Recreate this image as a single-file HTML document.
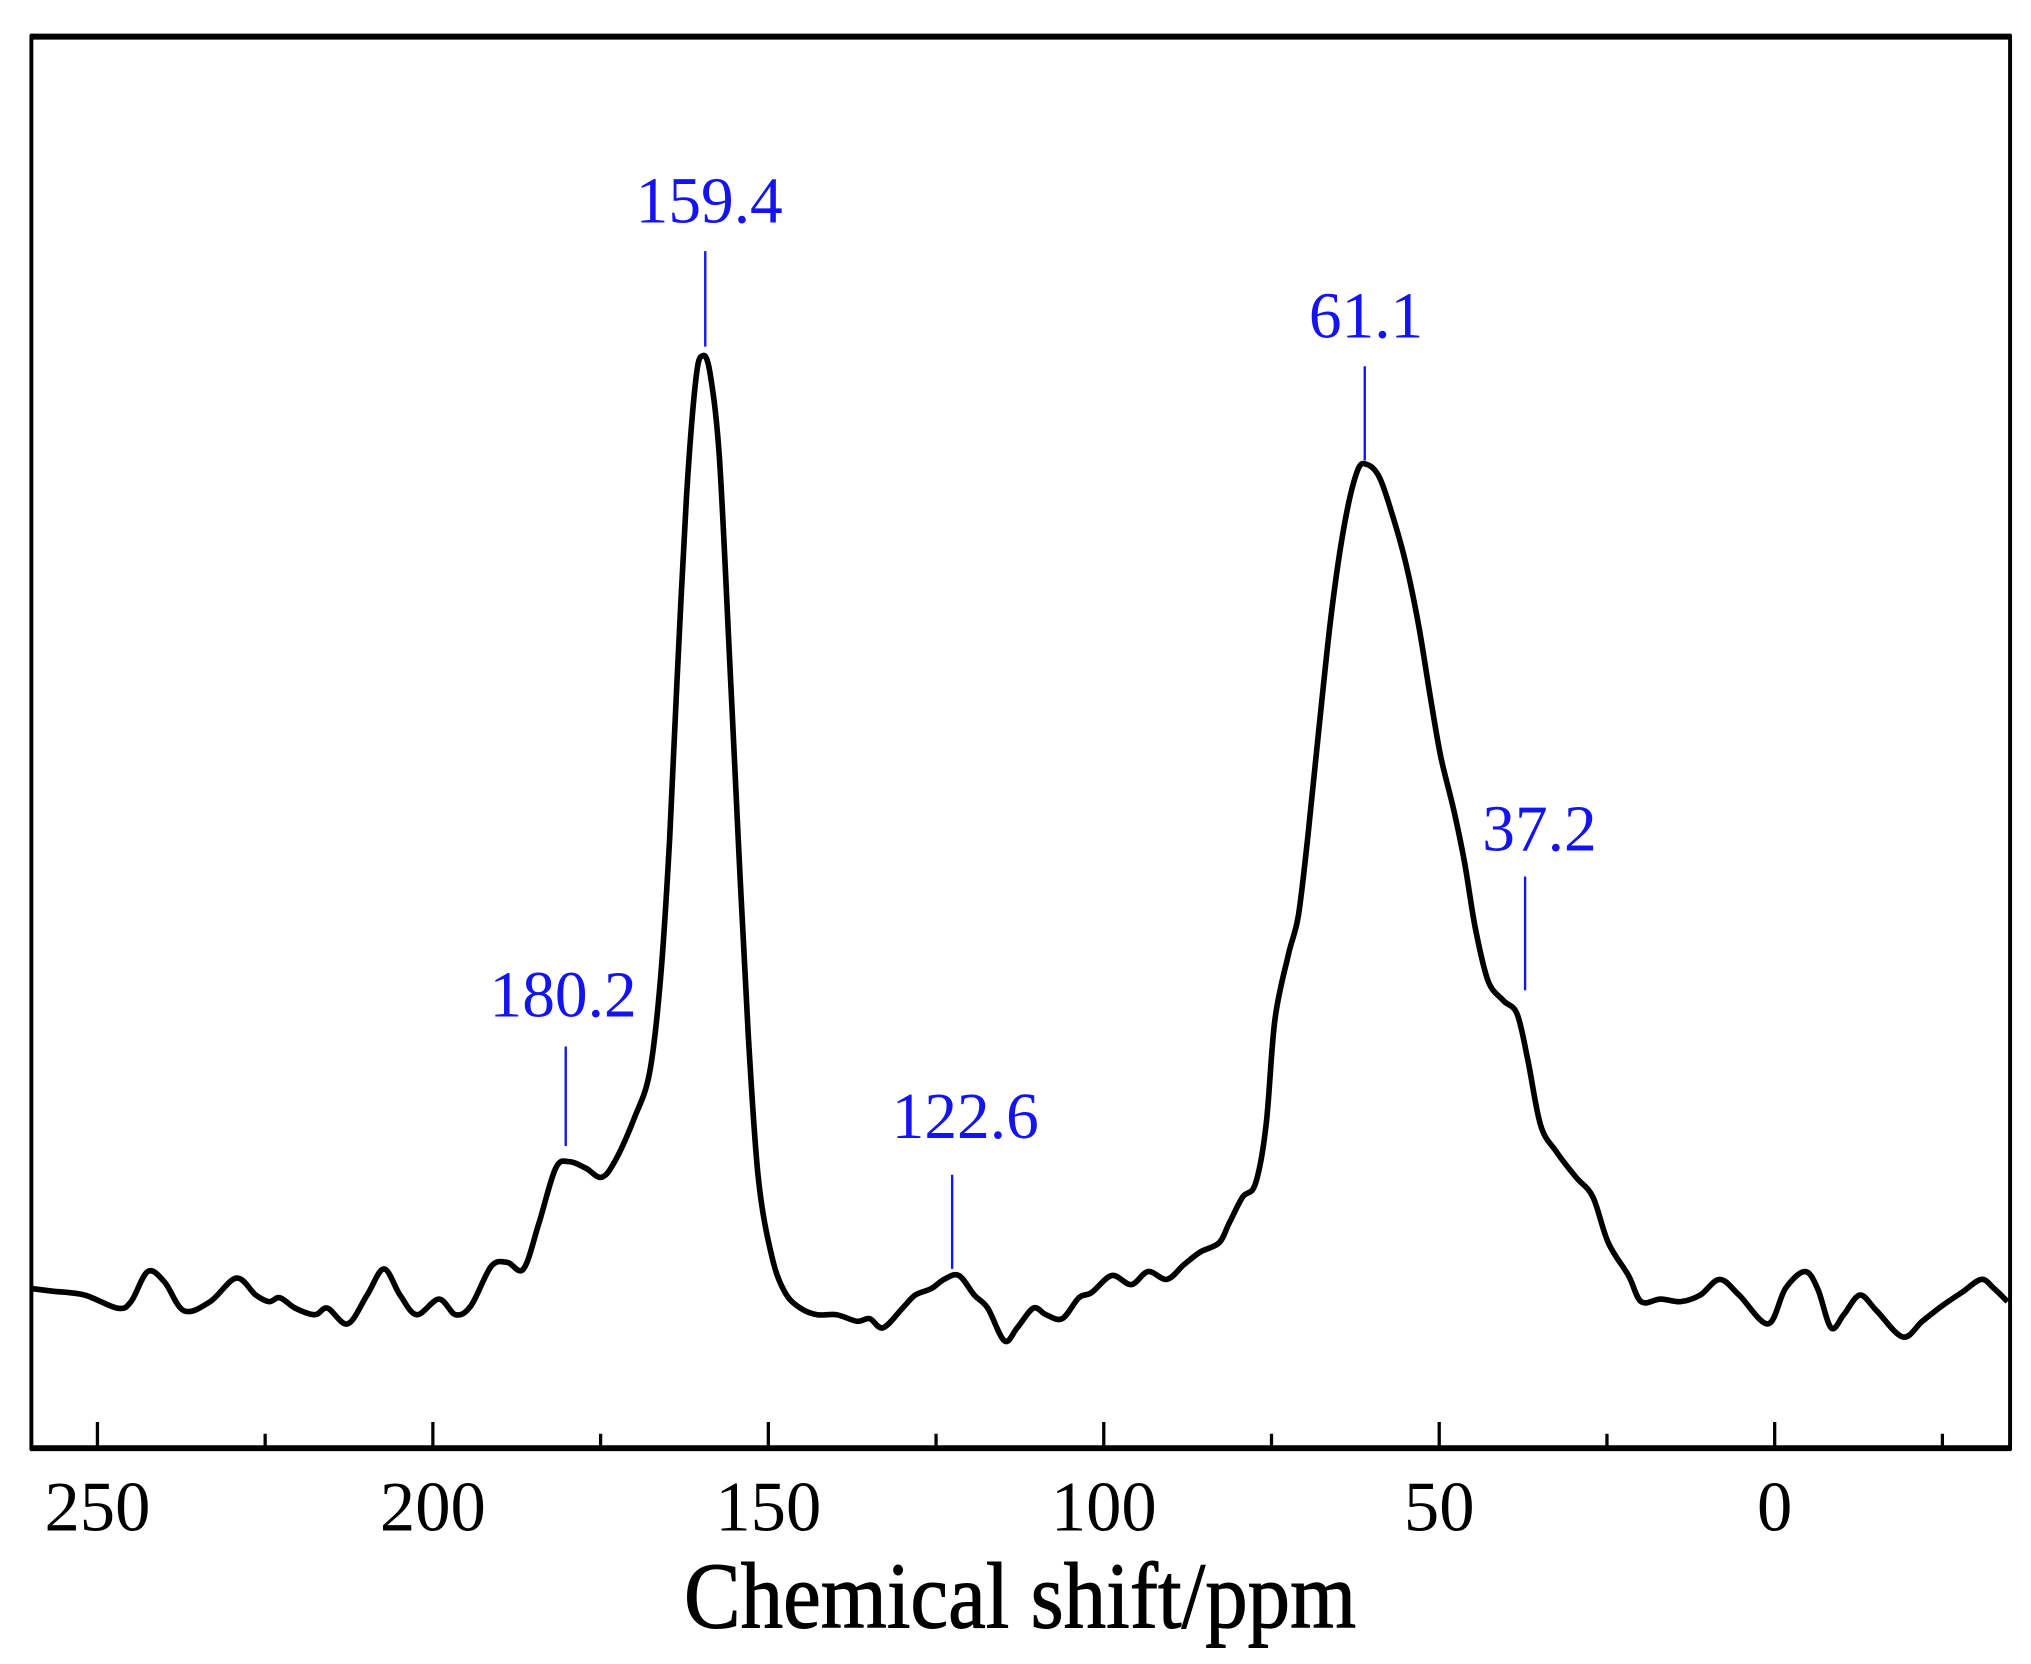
<!DOCTYPE html>
<html><head><meta charset="utf-8"><style>
html,body{margin:0;padding:0;background:#fff;}
svg{display:block;}
text{font-family:"Liberation Serif",serif;}
</style></head><body>
<svg id="chart" width="2031" height="1664" viewBox="0 0 1553 1272" preserveAspectRatio="none" xmlns="http://www.w3.org/2000/svg">
<rect x="0" y="0" width="1553" height="1272" fill="#fff"/>
<g id="plot"></g>
<rect x="24" y="28" width="1513" height="1079" fill="none" stroke="#000" stroke-width="3"/>
<line x1="23" y1="28" x2="1538" y2="28" stroke="#000" stroke-width="4.5"/>
<line x1="23" y1="1107" x2="1538" y2="1107" stroke="#000" stroke-width="4.5"/>
<g id="ticks"></g>
<text x="780" y="1244" font-size="72" text-anchor="middle" textLength="514" lengthAdjust="spacingAndGlyphs" stroke="#000" stroke-width="0.8">Chemical shift/ppm</text>
</svg>
<script>
const ppm = [259.8,256.7,251.9,247.0,245.0,242.5,240.0,237.1,233.2,229.3,226.4,224.4,222.8,220.5,217.6,215.7,212.7,209.8,207.3,204.9,202.4,199.1,196.6,194.3,191.3,188.9,186.5,184.2,181.7,179.7,177.2,174.9,172.9,170.0,167.7,166.1,164.7,163.6,162.2,160.8,159.8,158.7,157.3,155.8,154.4,153.0,151.5,149.5,147.5,145.2,142.7,139.8,136.8,134.9,132.9,130.0,128.1,125.7,123.8,121.6,119.3,117.3,114.8,112.9,110.5,108.6,106.2,103.7,101.8,98.8,95.9,93.4,90.6,88.1,85.6,82.8,81.3,79.3,77.4,75.8,74.5,72.5,71.0,69.6,68.0,66.1,64.1,62.2,60.8,58.9,56.9,55.0,53.0,51.1,49.7,47.8,46.2,44.6,42.7,40.4,38.4,36.8,34.9,32.6,29.6,27.1,24.8,21.8,19.9,17.0,14.0,11.1,8.2,5.3,1.0,-1.6,-4.5,-6.4,-8.4,-10.3,-12.7,-15.2,-19.1,-22.0,-25.0,-27.9,-30.8,-32.7,-34.7];
const intensity = [15,13,10,0,5,28,20,-2,5,23,10,5,8,0,-5,0,-12,10,30,10,-5,7,-5,2,32,35,30,65,107,112,107,100,112,145,180,250,360,480,620,710,728,715,650,500,350,210,100,40,12,0,-5,-5,-10,-8,-15,0,10,15,22,25,10,0,-25,-15,0,-5,-8,8,12,25,18,28,22,33,43,50,65,85,95,140,220,270,300,360,440,530,600,640,645,635,605,570,520,460,420,380,340,290,250,235,225,190,140,120,100,85,50,25,5,7,5,10,22,10,-12,15,28,15,-15,-5,10,-2,-22,-10,2,12,22,15,5];
const majorTicks = [250,200,150,100,50,0];
const minorTicks = [225,175,125,75,25,-25];
const tickLabels = ["250","200","150","100","50","0"];
const annoPpm = [159.4,61.1,37.2,180.2,122.6];
const annoLabels = ["159.4","61.1","37.2","180.2","122.6"];
const annoTop = [192,280,670,800,898];
const annoBottom = [265,352,757,876,970];
const annoTextY = [170,258,650,777,870];
const annoTextDx = [3,1,11,-2,10];

const NS="http://www.w3.org/2000/svg";
const xs = p => 1357 - p*5.13;
const ys = v => 1000 - v;
const plot=document.getElementById('plot');
const ticks=document.getElementById('ticks');
function mk(tag,attrs,parent){const e=document.createElementNS(NS,tag);for(const k in attrs)e.setAttribute(k,attrs[k]);parent.appendChild(e);return e;}

const pts=ppm.map((p,i)=>[xs(p),ys(intensity[i])]);
let d="M"+pts[0][0].toFixed(1)+","+pts[0][1].toFixed(1);
for(let i=0;i<pts.length-1;i++){
  const p0=pts[Math.max(0,i-1)],p1=pts[i],p2=pts[i+1],p3=pts[Math.min(pts.length-1,i+2)];
  const c1=[p1[0]+(p2[0]-p0[0])/6,p1[1]+(p2[1]-p0[1])/6];
  const c2=[p2[0]-(p3[0]-p1[0])/6,p2[1]-(p3[1]-p1[1])/6];
  d+=" C"+c1[0].toFixed(1)+","+c1[1].toFixed(1)+" "+c2[0].toFixed(1)+","+c2[1].toFixed(1)+" "+p2[0].toFixed(1)+","+p2[1].toFixed(1);
}
const line=mk('path',{d:d,fill:'none',stroke:'#000','stroke-width':4.3,'stroke-linejoin':'round'},plot);



majorTicks.forEach((t,i)=>{
  const l=mk('line',{x1:xs(t),x2:xs(t),y1:1107,y2:1087,stroke:'#000','stroke-width':2.5},ticks);
  
  
  const tx=mk('text',{x:xs(t),y:1170,'font-size':54,'text-anchor':'middle'},ticks);
  
  
  tx.textContent=tickLabels[i];
});
minorTicks.forEach(t=>{
  const l=mk('line',{x1:xs(t),x2:xs(t),y1:1107,y2:1096,stroke:'#000','stroke-width':2.5},ticks);
  
  
});
annoPpm.forEach((p,i)=>{
  const l=mk('line',{x1:xs(p),x2:xs(p),y1:annoTop[i],y2:annoBottom[i],stroke:'#1414f0','stroke-width':1.8},plot);
  
  
  const tx=mk('text',{x:xs(p)+annoTextDx[i],y:annoTextY[i],'font-size':50,'text-anchor':'middle',fill:'#1414f0'},plot);
  
  
  tx.textContent=annoLabels[i];
});
</script>
</body></html>
